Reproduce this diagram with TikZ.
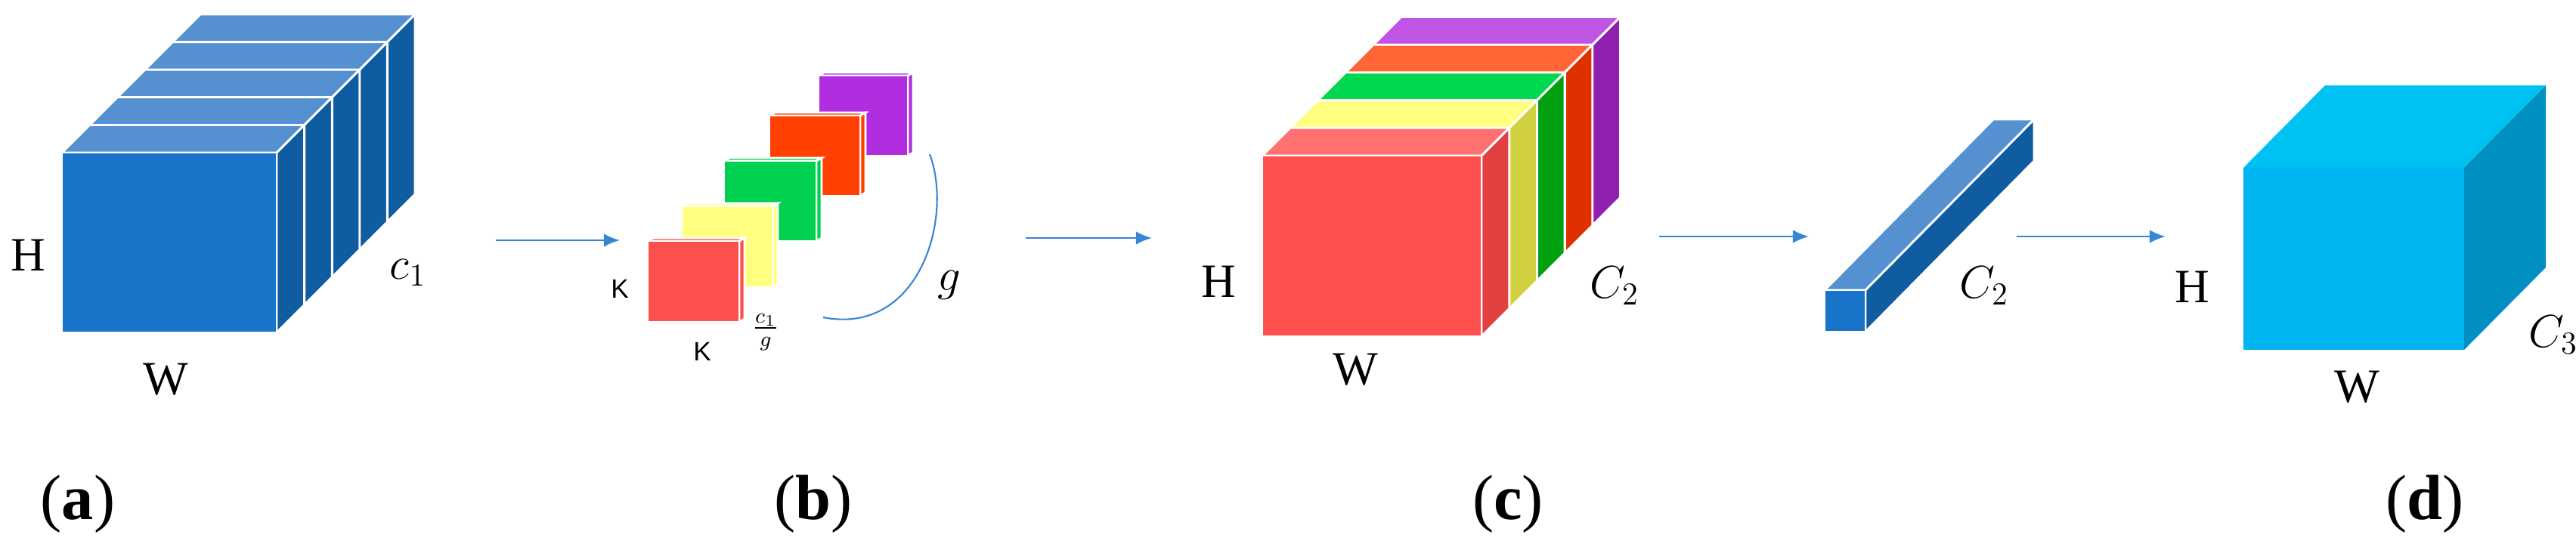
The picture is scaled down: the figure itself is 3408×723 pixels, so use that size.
\documentclass[tikz,border=0pt]{standalone}
\usepackage{fontspec}
\setmainfont{Liberation Serif}
\newfontfamily\ksans{Liberation Sans}
\usetikzlibrary{arrows.meta}
\begin{document}
\begin{tikzpicture}[x=0.01cm,y=-0.01cm,
  lbl/.style={font=\fontsize{18}{18}\selectfont},
  captxt/.style={font=\fontsize{24}{24}\selectfont},
  klbl/.style={font=\ksans\fontsize{10}{10}\selectfont},
  conn/.style={draw=arrc, line width=0.7pt, -{Latex[length=6pt,width=5pt]}},
  edge/.style={draw=white, line width=0.8pt}]
\useasboundingbox (0,0) rectangle (3408,723);
\definecolor{arrc}{HTML}{3A84D4}
\definecolor{bF}{HTML}{1874C8}\definecolor{bT}{HTML}{5590D0}\definecolor{bS}{HTML}{0F5CA0}
\newcommand\mybox[9]{%
  \filldraw[edge,fill=#8] (#1,#2) -- ++(#5,#6) -- ({#3+#5},{#2+#6}) -- (#3,#2) -- cycle;
  \filldraw[edge,fill=#9] (#3,#2) -- ({#3+#5},{#2+#6}) -- ({#3+#5},{#4+#6}) -- (#3,#4) -- cycle;
  \filldraw[edge,fill=#7] (#1,#2) rectangle (#3,#4);}
% (a)
\foreach \k in {4,3,2,1,0}{\mybox{82+36.6*\k}{202-36.6*\k}{366+36.6*\k}{440-36.6*\k}{36.6}{-36.6}{bF}{bT}{bS}}
\node[lbl] (aH) at (37,338) {H};
\node[lbl] (aW) at (219,502) {W};
\node[lbl] (aC) at (540,361) {$c_1$};
\node[captxt] (la) at (103,667) {(\textbf{a})};
% (b)
\coordinate (b1) at (656,318); \coordinate (b2) at (820,318);
\draw[conn] (b1) -- (b2);
\definecolor{pR}{HTML}{FF5050}\definecolor{pY}{HTML}{FFFF80}\definecolor{pG}{HTML}{00D050}\definecolor{pO}{HTML}{FF4000}\definecolor{pP}{HTML}{B02EE0}
\mybox{1083}{100}{1201}{206}{7}{-4}{pP}{pP}{pP}
\mybox{1018}{153}{1138}{259}{7}{-4}{pO}{pO}{pO}
\mybox{958}{213}{1080}{319}{7}{-4}{pG}{pG}{pG}
\mybox{902}{273}{1022}{380}{7}{-4}{pY}{pY}{pY}
\mybox{857}{319}{978}{426}{7}{-4}{pR}{pR}{pR}
\coordinate (g1) at (1230,204); \coordinate (g2) at (1089,420);
\draw[arrc, line width=0.6pt] (g1) .. controls (1262,290) and (1215,445) .. (g2);
\node[klbl] (bK1) at (820,382) {K};
\node[klbl] (bK2) at (929,465) {K};
\node[font=\fontsize{12}{12}\selectfont] (bf) at (1013,440) {$\frac{c_1}{g}$};
\node[lbl] (bg) at (1256,377) {$g$};
\node[captxt] (lb) at (1076,667) {(\textbf{b})};
\coordinate (c1) at (1357,315); \coordinate (c2) at (1524,315);
\draw[conn] (c1) -- (c2);
% (c)
\definecolor{cPT}{HTML}{C055E5}\definecolor{cPS}{HTML}{9020B0}
\definecolor{cOT}{HTML}{FF6535}\definecolor{cOS}{HTML}{E03000}
\definecolor{cGT}{HTML}{00D850}\definecolor{cGS}{HTML}{00A010}
\definecolor{cYT}{HTML}{FFFF80}\definecolor{cYS}{HTML}{D0D040}
\definecolor{cRT}{HTML}{FF7070}\definecolor{cRS}{HTML}{E04040}
\mybox{1670+36.7*4}{206-36.7*4}{1960+36.7*4}{445-36.7*4}{36.7}{-36.7}{cPT}{cPT}{cPS}
\mybox{1670+36.7*3}{206-36.7*3}{1960+36.7*3}{445-36.7*3}{36.7}{-36.7}{cOT}{cOT}{cOS}
\mybox{1670+36.7*2}{206-36.7*2}{1960+36.7*2}{445-36.7*2}{36.7}{-36.7}{cGT}{cGT}{cGS}
\mybox{1670+36.7*1}{206-36.7*1}{1960+36.7*1}{445-36.7*1}{36.7}{-36.7}{cYT}{cYT}{cYS}
\mybox{1670}{206}{1960}{445}{36.7}{-36.7}{pR}{cRT}{cRS}
\node[lbl] (cH) at (1612,373) {H};
\node[lbl] (cW) at (1793,489) {W};
\node[lbl] (cC) at (2136,378) {$C_2$};
\node[captxt] (lc) at (1995,667) {(\textbf{c})};
\coordinate (d1) at (2195,313); \coordinate (d2) at (2393,313);
\draw[conn] (d1) -- (d2);
% bar
\mybox{2414}{384}{2468}{439}{223}{-226}{bF}{bT}{bS}
\node[lbl] (eC) at (2625,378) {$C_2$};
\coordinate (e1) at (2668,313); \coordinate (e2) at (2865,313);
\draw[conn] (e1) -- (e2);
% (d)
\definecolor{dF}{HTML}{00B4F0}\definecolor{dT}{HTML}{00C2F2}\definecolor{dS}{HTML}{0090C2}
\fill[dT] (2968,222) -- ++(108,-109) -- (3368,113) -- (3260,222) -- cycle;
\fill[dS] (3260,222) -- (3368,113) -- (3368,354) -- (3260,463) -- cycle;
\fill[dF] (2968,222) rectangle (3260,463);
\node[lbl] (dH) at (2900,380) {H};
\node[lbl] (dW) at (3118,512) {W};
\node[lbl] (dC) at (3378,443) {$C_3$};
\node[captxt] (ld) at (3208,667) {(\textbf{d})};
\end{tikzpicture}
\end{document}
